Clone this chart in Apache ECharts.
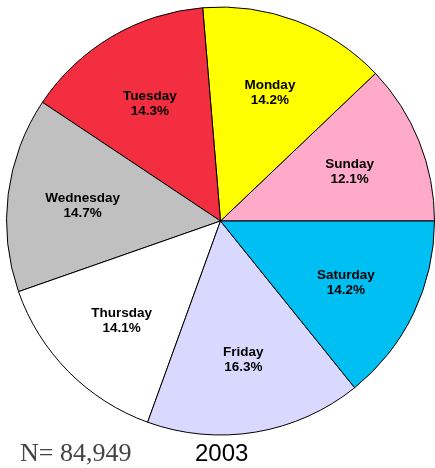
<!DOCTYPE html>
<html>
<head>
<meta charset="utf-8">
<script src="https://cdn.jsdelivr.net/npm/echarts@6/dist/echarts.min.js"></script>
<style>
  html, body { margin: 0; padding: 0; background: #fff; }
  #main { width: 435px; height: 468px; }
</style>
</head>
<body>
<div id="main"></div>
<script>
// 数据
var days = ['Sunday', 'Monday', 'Tuesday', 'Wednesday', 'Thursday', 'Friday', 'Saturday'];
var percents = [12.1, 14.2, 14.3, 14.7, 14.1, 16.3, 14.2];
var colors = ['#FFAAC9', '#FFFF00', '#F22E40', '#C0C0C0', '#FFFFFF', '#D9D9FF', '#00BFF3'];
var totalN = 'N= 84,949';
var year = '2003';

var chart = echarts.init(document.getElementById('main'));

var pieData = days.map(function (d, i) {
    return { name: d, value: percents[i], itemStyle: { color: colors[i] } };
});

var option = {
    animation: false,
    graphic: [
        {
            type: 'text', left: 20, top: 441,
            style: { text: totalN, font: '26px "Liberation Serif", "Times New Roman", serif', fill: '#444' }
        },
        {
            type: 'text', left: 195, top: 442,
            style: { text: year, font: '24px "Liberation Sans", Arial, sans-serif', fill: '#000' }
        }
    ],
    series: [
        {
            // 饼图本体
            type: 'pie',
            center: [220.5, 221],
            radius: 214,
            startAngle: 0,
            clockwise: false,
            silent: true,
            data: pieData,
            itemStyle: { borderColor: '#000', borderWidth: 1 },
            label: { show: false },
            labelLine: { show: false }
        },
        {
            // 透明层，只用来放标签
            type: 'pie',
            center: [220.5, 221],
            radius: [58, 214],
            startAngle: 0,
            clockwise: false,
            silent: true,
            data: days.map(function (d, i) { return { name: d, value: percents[i] }; }),
            itemStyle: { color: 'rgba(0,0,0,0)' },
            label: {
                show: true,
                position: 'inside',
                formatter: '{b}\n{c}%',
                color: '#000',
                fontFamily: '"Liberation Sans", Arial, sans-serif',
                fontWeight: 'bold',
                fontSize: 13.5,
                lineHeight: 15,
                offset: [0, 2]
            },
            labelLine: { show: false }
        }
    ]
};

chart.setOption(option);
</script>
</body>
</html>
